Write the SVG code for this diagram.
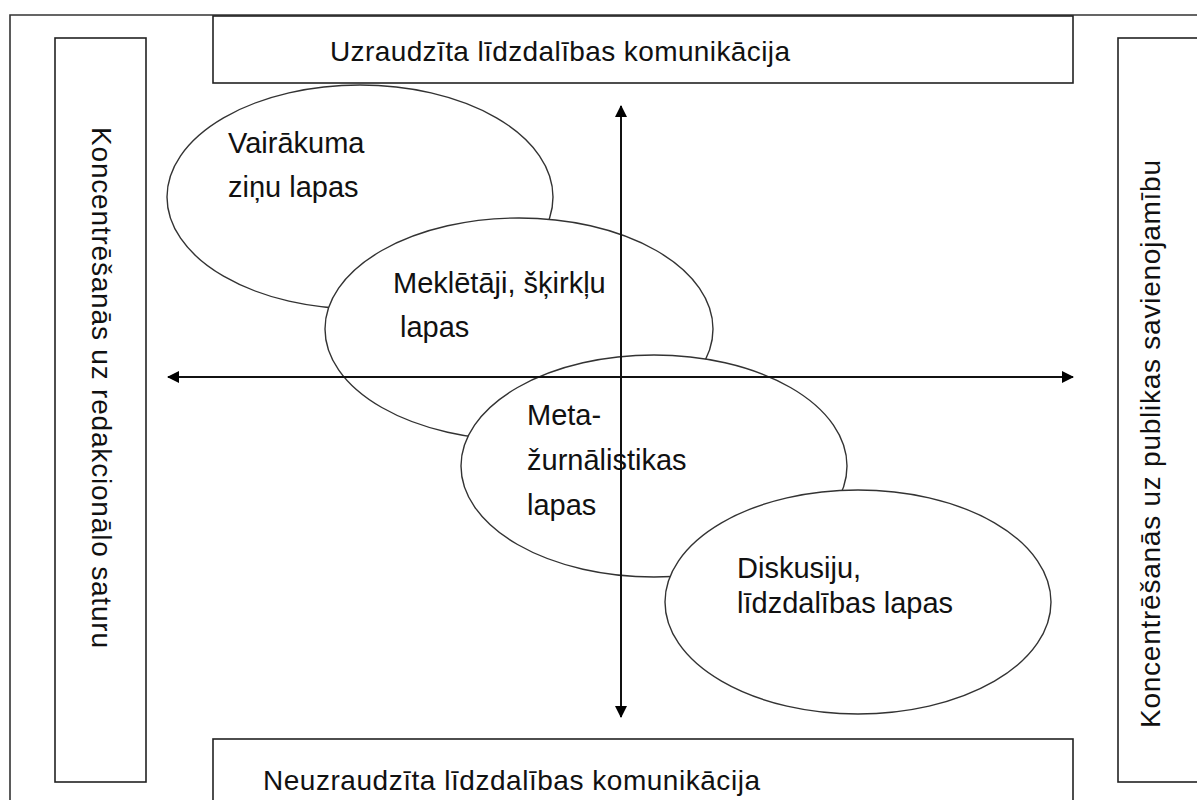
<svg xmlns="http://www.w3.org/2000/svg" width="1197" height="800" viewBox="0 0 1197 800">
  <style>
    .box { fill: #ffffff; stroke: #222222; stroke-width: 1.6; }
    .oval { fill: #ffffff; stroke: #333333; stroke-width: 1.4; }
    .axis { stroke: #111111; stroke-width: 2; fill: none; }
    text { font-family: "Liberation Sans", Arial, sans-serif; font-size: 28px; fill: #111111; }
    .inner { font-size: 29px; }
  </style>
  <defs>
    <marker id="tip" viewBox="0 0 12 12" refX="11" refY="6" markerWidth="12" markerHeight="12" markerUnits="userSpaceOnUse" orient="auto-start-reverse">
      <path d="M0,0 L12,6 L0,12 Z" fill="#000000"/>
    </marker>
  </defs>

  <rect width="1197" height="800" fill="#ffffff"/>
  <!-- outer frame -->
  <path d="M10,800 V15 H1197" fill="none" stroke="#333333" stroke-width="1.6"/>

  <g id="top-box">
    <rect class="box" x="213" y="16" width="860" height="67"/>
    <text x="330" y="61" textLength="460">Uzraudzīta līdzdalības komunikācija</text>
  </g>
  <g id="bottom-box">
    <rect class="box" x="213" y="739" width="860" height="80"/>
    <text x="263" y="790" textLength="497">Neuzraudzīta līdzdalības komunikācija</text>
  </g>
  <g id="left-box">
    <rect class="box" x="55" y="38" width="91" height="744"/>
    <text transform="translate(92,127) rotate(90)" textLength="521">Koncentrēšanās uz redakcionālo saturu</text>
  </g>
  <g id="right-box">
    <rect class="box" x="1118" y="38" width="100" height="744"/>
    <text transform="translate(1160,728) rotate(-90)" textLength="568">Koncentrēšanās uz publikas savienojamību</text>
  </g>

  <g id="oval-1">
    <ellipse class="oval" cx="360" cy="197" rx="193" ry="112"/>
    <text class="inner" x="228" y="153">Vairākuma</text>
    <text class="inner" x="228" y="197">ziņu lapas</text>
  </g>
  <g id="oval-2">
    <ellipse class="oval" cx="519" cy="329" rx="194" ry="111"/>
    <text class="inner" x="393" y="293">Meklētāji, šķirkļu</text>
    <text class="inner" x="400" y="337">lapas</text>
  </g>
  <g id="oval-3">
    <ellipse class="oval" cx="654" cy="466" rx="193" ry="111"/>
    <text class="inner" x="527" y="425">Meta-</text>
    <text class="inner" x="527" y="470">žurnālistikas</text>
    <text class="inner" x="527" y="515">lapas</text>
  </g>
  <g id="oval-4">
    <ellipse class="oval" cx="858" cy="602" rx="193" ry="112"/>
    <text class="inner" x="737" y="578">Diskusiju,</text>
    <text class="inner" x="737" y="613">līdzdalības lapas</text>
  </g>

  <g id="connectors">
    <line class="axis" x1="621" y1="106" x2="621" y2="717" marker-start="url(#tip)" marker-end="url(#tip)"/>
    <line class="axis" x1="168" y1="377" x2="1073" y2="377" marker-start="url(#tip)" marker-end="url(#tip)"/>
  </g>
</svg>
